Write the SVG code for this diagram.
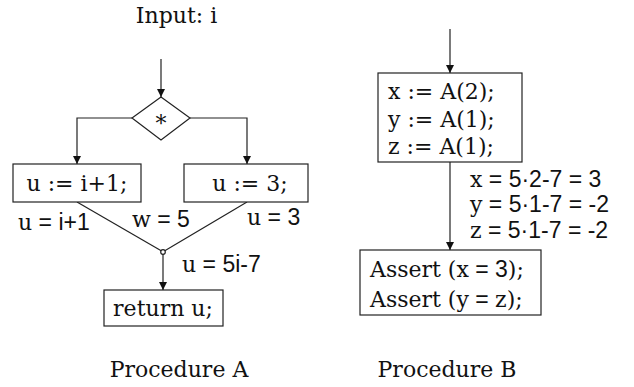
<svg xmlns="http://www.w3.org/2000/svg" width="634" height="387" viewBox="0 0 634 387">
<defs>
<marker id="arr" markerUnits="userSpaceOnUse" markerWidth="8" markerHeight="8" refX="8" refY="4" orient="auto"><path d="M0,0 L8,4 L0,8 z" fill="#111"/></marker>
<style>
text{font-family:"DejaVu Serif","Liberation Serif",serif;font-size:22px;fill:#111}
.s{font-family:"Liberation Sans",Arial,sans-serif;font-size:23px}
.m{text-anchor:middle}
.box{fill:#fff;stroke:#222;stroke-width:1.2}
.c{fill:none;stroke:#222;stroke-width:1.2}
.a{marker-end:url(#arr)}
</style>
</defs>
<rect width="634" height="387" fill="#fff"/>
<text class="m" x="176.5" y="23">Input: i</text>
<text class="m" x="179" y="377">Procedure A</text>
<text class="m" x="447" y="377">Procedure B</text>
<g id="connectors">
<path class="c a" d="M161,59 V97"/>
<path class="c a" d="M132,118 H77 V164"/>
<path class="c a" d="M190,118 H247 V164"/>
<path class="c" d="M77,202 L161.2,250.8"/>
<path class="c" d="M247,202 L164.8,250.8"/>
<circle class="c" cx="163" cy="252" r="2.3" fill="#fff"/>
<path class="c a" d="M163,254.3 V290"/>
<path class="c a" d="M450,29 V73"/>
<path class="c a" d="M450,162 V250"/>
<text x="18" y="230">u<tspan class="s"> = i+1</tspan></text>
<text x="132" y="227">w<tspan class="s"> = 5</tspan></text>
<text x="247" y="225">u<tspan class="s"> = 3</tspan></text>
<text x="182" y="272">u<tspan class="s"> = 5i-7</tspan></text>
<text x="470" y="186.5">x<tspan class="s"> = 5·2-7 = 3</tspan></text>
<text x="470" y="212">y<tspan class="s"> = 5·1-7 = -2</tspan></text>
<text x="470" y="238">z<tspan class="s"> = 5·1-7 = -2</tspan></text>
</g>
<g id="decision">
<path class="box" d="M161,97 L190,118 L161,140 L132,118 z"/>
<text class="m" x="161" y="131">*</text>
</g>
<g id="assign1">
<rect class="box" x="13" y="164" width="128" height="38"/>
<text class="m" x="77" y="191">u := i+1;</text>
</g>
<g id="assign2">
<rect class="box" x="184" y="164" width="124" height="38"/>
<text class="m" x="250" y="191">u := 3;</text>
</g>
<g id="return">
<rect class="box" x="104" y="290" width="119" height="36"/>
<text class="m" x="163" y="316">return u;</text>
</g>
<g id="calls">
<rect class="box" x="378" y="73" width="144" height="89"/>
<text x="388" y="99">x := A(2);</text>
<text x="388" y="126.5">y := A(1);</text>
<text x="388" y="153.5">z := A(1);</text>
</g>
<g id="asserts">
<rect class="box" x="360" y="250" width="181" height="65"/>
<text x="370" y="277">Assert (x<tspan class="s"> = 3</tspan>);</text>
<text x="370" y="307">Assert (y<tspan class="s"> = </tspan>z);</text>
</g>
</svg>
